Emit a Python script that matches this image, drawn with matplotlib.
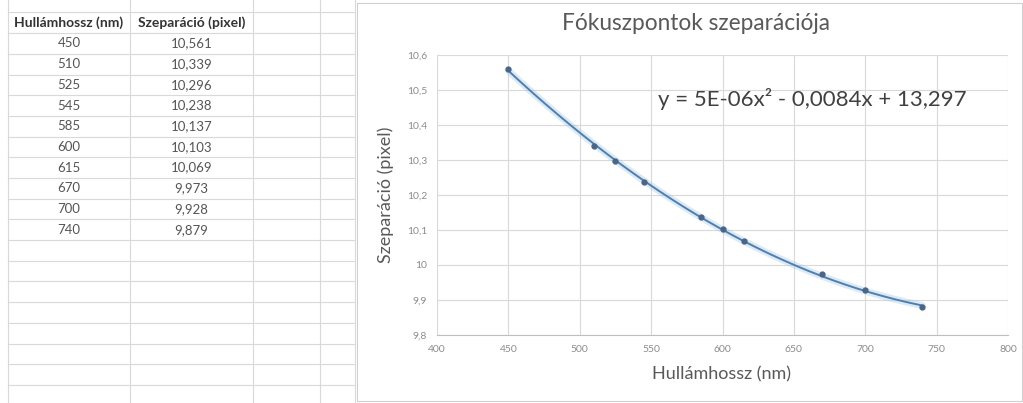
import numpy as np
import matplotlib
matplotlib.use("Agg")
import matplotlib.pyplot as plt
from matplotlib.patches import Rectangle

plt.rcParams['font.family'] = ['Lato', 'DejaVu Sans']

# -----------------------------------------
# Data (read from the spreadsheet)
# -----------------------------------------
wavelength = [450, 510, 525, 545, 585, 600, 615, 670, 700, 740]
separation = [10.561, 10.339, 10.296, 10.238, 10.137, 10.103, 10.069, 9.973, 9.928, 9.879]
col_headers = ["Hullámhossz (nm)", "Szeparáció (pixel)"]
x_ticks = [400, 450, 500, 550, 600, 650, 700, 750, 800]
y_ticks = [9.8, 9.9, 10.0, 10.1, 10.2, 10.3, 10.4, 10.5, 10.6]
title = "Fókuszpontok szeparációja"
equation = "y = 5E-06x² - 0,0084x + 13,297"


def hu(v):
    # hungarian decimal comma
    return ("%g" % round(v, 3)).replace(".", ",")


W, H = 1023, 403
fig = plt.figure(figsize=(W / 100, H / 100), dpi=100)

# -----------------------------------------
# Spreadsheet background (pixel coordinates)
# -----------------------------------------
bg = fig.add_axes([0, 0, 1, 1])
bg.set_xlim(0, W)
bg.set_ylim(H, 0)
bg.axis("off")

grid_c = "#d9d9d9"
row_h = 20.7
row_top = 12.4
col_x = [8, 130, 253, 320, 355]
for k in range(20):
    y = row_top + k * row_h
    bg.plot([col_x[0], col_x[-1]], [y, y], color=grid_c, lw=0.8)
for x in col_x:
    bg.plot([x, x], [0, H], color=grid_c, lw=0.8)

c1 = (col_x[0] + col_x[1]) / 2
c2 = (col_x[1] + col_x[2]) / 2
hy = row_top + row_h / 2
bg.text(c1, hy, col_headers[0], ha="center", va="center", fontsize=10,
        fontweight="bold", color="#333333")
bg.text(c2, hy, col_headers[1], ha="center", va="center", fontsize=10,
        fontweight="bold", color="#333333")
for i, (w, s) in enumerate(zip(wavelength, separation)):
    y = row_top + (i + 1.5) * row_h
    bg.text(c1, y, str(w), ha="center", va="center", fontsize=9.5, color="#555555")
    bg.text(c2, y, ("%.3f" % s).replace(".", ","), ha="center", va="center",
            fontsize=9.5, color="#555555")

# chart area
bg.add_patch(Rectangle((357, 3), 665, 398, facecolor="white", edgecolor="#d0d0d0", lw=0.8))

bg.text(696, 24, title, ha="center", va="center", fontsize=16.3, color="#595959")
bg.text(386, 195, "Szeparáció (pixel)", ha="center", va="center", rotation=90,
        fontsize=13, color="#595959")
bg.text(722, 374, "Hullámhossz (nm)", ha="center", va="center", fontsize=13,
        color="#595959")

# -----------------------------------------
# Chart
# -----------------------------------------
ax = fig.add_axes([437 / W, (H - 335) / H, (1008 - 437) / W, (335 - 55) / H])
ax.patch.set_alpha(0)
ax.set_xlim(400, 800)
ax.set_ylim(9.8, 10.6)
ax.set_xticks(x_ticks)
ax.set_yticks(y_ticks)
ax.set_xticklabels([str(x) for x in x_ticks])
ax.set_yticklabels([hu(v) for v in y_ticks])
ax.tick_params(length=0, labelsize=7.5, labelcolor="#8c8c8c", pad=7)
ax.grid(True, color=grid_c, lw=0.8)
for sp in ax.spines.values():
    sp.set_visible(False)
ax.spines["bottom"].set_visible(True)
ax.spines["bottom"].set_color("#bfbfbf")
ax.set_axisbelow(True)

# 2nd order polynomial trendline (as in the spreadsheet)
coef = np.polyfit(wavelength, separation, 2)
xs = np.linspace(min(wavelength), max(wavelength), 200)
ax.plot(xs, np.polyval(coef, xs), color="#9dc3e6", lw=5, alpha=0.35, solid_capstyle="round")
ax.plot(xs, np.polyval(coef, xs), color="#4f7fb0", lw=1.4)
ax.plot(wavelength, separation, "o", color="#4a6585", ms=3.5)

# trendline equation label, placed in sheet pixels
ax.text(658, 99, equation, ha="left", va="center", fontsize=16, color="#404040",
        transform=bg.transData)

fig.savefig("out.png", dpi=100)
